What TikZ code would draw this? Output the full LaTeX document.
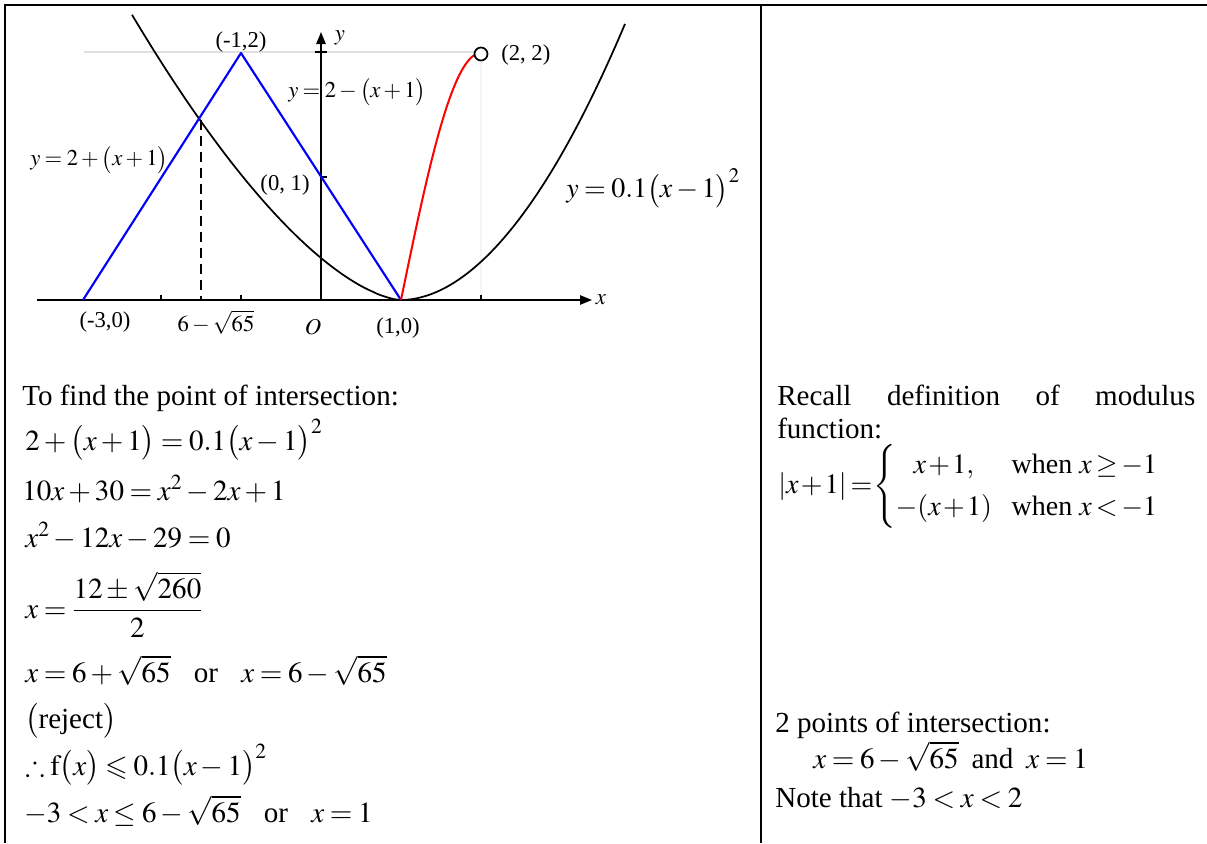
\documentclass[tikz,border=0pt]{standalone}
\usepackage{amsmath,amssymb}
\usepackage{mathptmx}
\usepackage[no-math]{fontspec}
\setmainfont{Liberation Serif}
\usetikzlibrary{arrows.meta}
\newcommand{\mylp}{\bigl(}
\newcommand{\myrp}{\bigr)}
\newcommand{\orgap}{\hspace{0.8em}}
\medmuskip=2.5mu plus 1mu minus 1mu
\thickmuskip=3.5mu plus 1mu minus 1mu
\begin{document}
\begin{tikzpicture}[x=0.75pt,y=-0.75pt,
  frame/.style={line width=1.5pt},
  txt/.style={inner sep=0pt, anchor=base west, font=\fontsize{21.8}{26}\selectfont},
  lbl/.style={inner sep=0pt, font=\fontsize{17}{20}\selectfont},
  biglbl/.style={inner sep=0pt, font=\fontsize{21}{25}\selectfont},
  axisline/.style={line width=1.2pt, -{Triangle[length=9pt,width=7pt]}},
  tickline/.style={line width=0.8pt},
  seg/.style={blue, line width=1.6pt},
  curve/.style={black, line width=1.3pt},
  redcurve/.style={red, line width=1.5pt},
  guide/.style={line width=1.5pt, dash pattern=on 7.5pt off 4.5pt},
  opencirc/.style={circle, draw, line width=1.3pt, fill=white, inner sep=0pt, minimum size=9.75pt}
]
\useasboundingbox (0,0) rectangle (1207,843);
% table frame
\coordinate (f1) at (4,5); \coordinate (f2) at (1207,5);
\coordinate (f3) at (5,4); \coordinate (f4) at (5,843);
\coordinate (f5) at (761,5); \coordinate (f6) at (761,843);
\draw[frame] (f1) -- (f2);
\draw[frame] (f3) -- (f4);
\draw[frame] (f5) -- (f6);
% guides
\draw[gray!25, line width=1.2pt] (84,52) -- (475,52);
\draw[gray!8, line width=1pt] (481,61) -- (481,300);
% axes
\coordinate (O) at (321,300);
\coordinate (xs) at (37,300); \coordinate (xe) at (592,300);
\coordinate (ye) at (321,32);
\draw[axisline] (xs) -- (xe);
\draw[axisline] (O) -- (ye);
\foreach \t in {161,241,481} \draw[tickline] (\t,300) -- (\t,295);
\draw[tickline] (315,52) -- (327,52);
\draw[tickline] (321,177) -- (327,177);
% dashed
\coordinate (I) at (201,120); \coordinate (Ib) at (201,300);
\draw[guide] (I) -- (Ib);
% curve y = 0.1(x-1)^2
\draw[curve] plot[domain=269:1, samples=60] ({401-\x},{300-180*(\x/201)^1.58})
  -- plot[domain=1:224, samples=60] ({401+\x},{300-112*(\x/140)^1.92});
% blue
\coordinate (A) at (83,300); \coordinate (P) at (241,53); \coordinate (V) at (401,300);
\draw[seg, line join=round] (A) -- (P) -- (V);
% red
\draw[redcurve] plot[domain=0:0.92, samples=40] ({401+80*\x},{300-123.5*2*sin(90*\x)});
\node[opencirc] (C) at (481,54) {};
% labels
\node[lbl] (l1) at (241,42) {(-1,2)};
\node[lbl] (l2) at (285,185) {(0, 1)};
\node[lbl, anchor=west] (l3) at (501,55) {(2, 2)};
\node[lbl] (l4) at (105,322) {(-3,0)};
\node[lbl] (l5) at (216,322) {$6-\sqrt{65}$};
\node[lbl] (l6) at (313,327) {$O$};
\node[lbl] (l7) at (398,328) {(1,0)};
\node[lbl, anchor=west] (l8) at (288,92) {$y=2-\mylp x+1\myrp$};
\node[lbl, anchor=west] (l9) at (30,160) {$y=2+\mylp x+1\myrp$};
\node[biglbl, anchor=west] (l10) at (566,188) {$y=0.1\mylp x-1\myrp^2$};
\node[lbl] (lx) at (601,300) {$x$};
\node[lbl] (ly) at (340,38) {$y$};
% left column text
\node[txt] (t1) at (22,405) {To find the point of intersection:};
\node[txt] (t2) at (25,450) {$2+\mylp x+1\myrp=0.1\mylp x-1\myrp^2$};
\node[txt] (t3) at (22,500) {$10x+30=x^2-2x+1$};
\node[txt] (t4) at (25,547) {$x^2-12x-29=0$};
\node[txt] (t5) at (25,618) {$x=\dfrac{12\pm\sqrt{260}}{2}$};
\node[txt] (t6) at (25,682) {$x=6+\sqrt{65}\orgap\text{or}\orgap x=6-\sqrt{65}$};
\node[txt] (t7) at (25,728) {$\mylp\text{reject}\myrp$};
\node[txt] (t8) at (25,775) {$\therefore\mathrm{f}\mylp x\myrp\leqslant0.1\mylp x-1\myrp^2$};
\node[txt] (t9) at (24,822) {$-3<x\le6-\sqrt{65}\orgap\text{or}\orgap x=1$};
% right column text
\node[txt] (r1) at (777,405) {\hbox to 313.5pt{Recall\hfill definition\hfill of\hfill modulus}};
\node[txt] (r2) at (777,438) {function:};
\node[txt, font=\fontsize{21}{25}\selectfont] (r3) at (778,493) {\medmuskip=1.5mu\thickmuskip=2.5mu\renewcommand{\arraystretch}{1.25}$\lvert x+1\rvert=\!\left\{\begin{array}{@{}c@{\hspace{0.7em}}l@{}} x+1, & \text{when } x\ge-1\\ -(x+1) & \text{when } x<-1\end{array}\right.$};
\node[txt] (r4) at (775,732) {2 points of intersection:};
\node[txt] (r5) at (813,768) {$x=6-\sqrt{65}\;\text{ and }\;x=1$};
\node[txt] (r6) at (775,807) {Note that $-3<x<2$};
\end{tikzpicture}
\end{document}
